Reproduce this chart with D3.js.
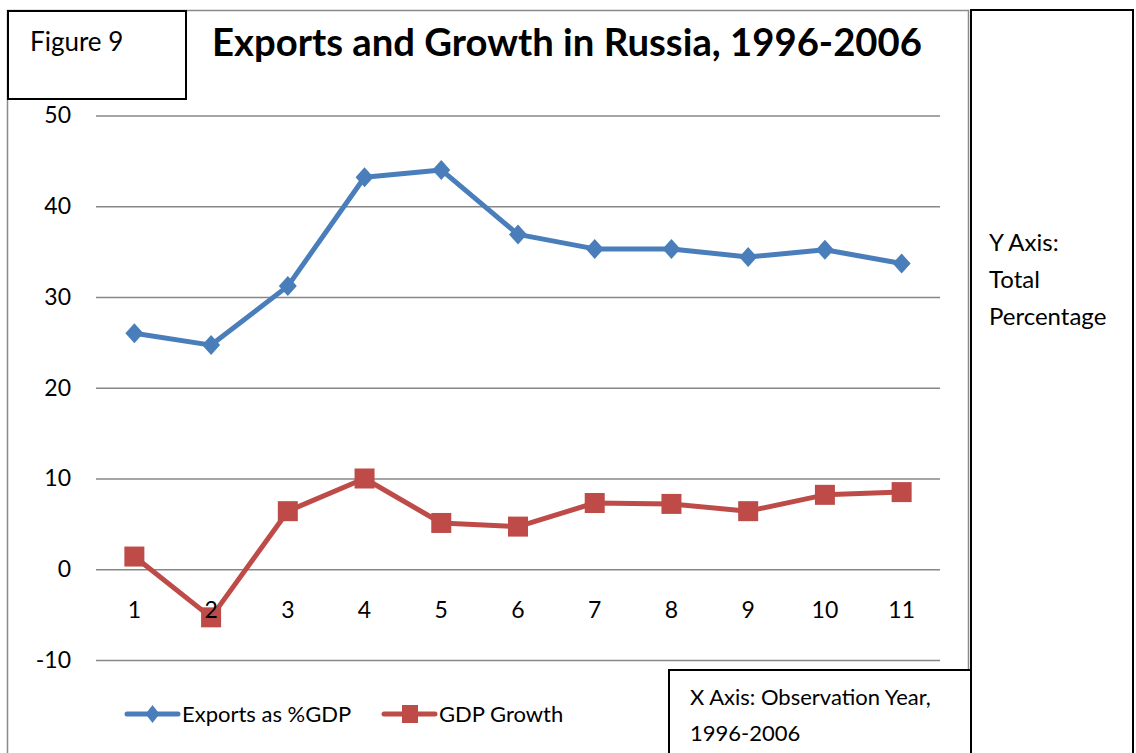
<!DOCTYPE html>
<html>
<head>
<meta charset="utf-8">
<script src="https://cdn.jsdelivr.net/npm/d3@7"></script>
<style>
  html, body { margin: 0; padding: 0; background: #fff; }
  svg { display: block; font-family: Lato, "Open Sans", sans-serif; }
</style>
</head>
<body>
<svg id="chart" width="1136" height="753"></svg>
<script>
// Observation years 1996-2006 numbered 1..11
const categories = ["1", "2", "3", "4", "5", "6", "7", "8", "9", "10", "11"];
const exportsPctGDP = [26.0, 24.7, 31.2, 43.2, 44.0, 36.9, 35.3, 35.3, 34.4, 35.2, 33.7];
const gdpGrowth = [1.4, -5.3, 6.4, 10.0, 5.1, 4.7, 7.3, 7.2, 6.4, 8.2, 8.5];
const yTicks = [-10, 0, 10, 20, 30, 40, 50];
const seriesNames = ["Exports as %GDP", "GDP Growth"];

const svg = d3.select("#chart");
const plot = { left: 96, right: 940, top: 115.5, bottom: 660 };
const blue = "#4a7ebb", red = "#be4b48", grid = "#878787";

// chart frame
svg.append("rect").attr("x", 7.5).attr("y", 10.5).attr("width", 961).attr("height", 800)
  .attr("fill", "#fff").attr("stroke", "#8a8a8a").attr("stroke-width", 1.5);

const x = d3.scaleBand().domain(categories).range([plot.left, plot.right]);
const y = d3.scaleLinear().domain([-10, 50]).range([plot.bottom, plot.top]);

// horizontal gridlines + y labels
const yAxis = d3.axisLeft(y).tickValues(yTicks).tickFormat(d => String(d))
  .tickSize(-(plot.right - plot.left)).tickPadding(25);
const gy = svg.append("g").attr("transform", `translate(${plot.left},0)`).call(yAxis);
gy.select(".domain").remove();
gy.selectAll(".tick line").attr("stroke", grid).attr("stroke-width", 1.6);
gy.selectAll(".tick text").attr("fill", "#000").style("font-size", "23px")
  .style("font-family", "Lato, sans-serif");

const cx = (d, i) => x(categories[i]) + x.bandwidth() / 2;
const line = d3.line().x((d, i) => cx(d, i)).y(d => y(d));

// exports series
svg.append("path").datum(exportsPctGDP).attr("d", line)
  .attr("fill", "none").attr("stroke", blue).attr("stroke-width", 5).attr("stroke-linejoin", "round");
svg.append("g").selectAll("path").data(exportsPctGDP).join("path")
  .attr("transform", (d, i) => `translate(${cx(d, i)},${y(d)})`)
  .attr("d", "M0,-10L9,0L0,10L-9,0Z").attr("fill", blue);

// GDP growth series
svg.append("path").datum(gdpGrowth).attr("d", line)
  .attr("fill", "none").attr("stroke", red).attr("stroke-width", 5).attr("stroke-linejoin", "round");
svg.append("g").selectAll("rect").data(gdpGrowth).join("rect")
  .attr("x", (d, i) => cx(d, i) - 10).attr("y", d => y(d) - 10)
  .attr("width", 20).attr("height", 20).attr("fill", red);

// category labels sit below the zero line, drawn above the series
const xAxis = d3.axisBottom(x).tickSize(0).tickPadding(32);
const gx = svg.append("g").attr("transform", `translate(0,${y(0)})`).call(xAxis);
gx.select(".domain").remove();
gx.selectAll(".tick text").attr("fill", "#000").style("font-size", "23px")
  .style("font-family", "Lato, sans-serif");

// legend
const legend = svg.append("g").style("font-size", "22px");
const legY = 714;
[[127, blue, "diamond"], [384, red, "square"]].forEach(([lx, col, shape], k) => {
  legend.append("line").attr("x1", lx).attr("x2", lx + 51).attr("y1", legY).attr("y2", legY)
    .attr("stroke", col).attr("stroke-width", 5).attr("stroke-linecap", "round");
  if (shape === "diamond") {
    legend.append("path").attr("transform", `translate(${lx + 25.5},${legY})`)
      .attr("d", "M0,-9L7,0L0,9L-7,0Z").attr("fill", col);
  } else {
    legend.append("rect").attr("x", lx + 18).attr("y", legY - 9).attr("width", 16).attr("height", 18).attr("fill", col);
  }
  legend.append("text").attr("x", lx + 55).attr("y", legY).attr("dy", "0.35em")
    .text(seriesNames[k]);
});

// title
const title = svg.append("text").attr("x", 212).attr("y", 56)
  .style("font-weight", "bold").style("font-size", "36px").text("Exports and Growth in Russia, 1996-2006");
const tw = title.node().getComputedTextLength();
title.style("font-size", (36 * 710 / tw).toFixed(2) + "px");

// "Figure 9" box
svg.append("rect").attr("x", 8).attr("y", 11).attr("width", 178).attr("height", 88)
  .attr("fill", "#fff").attr("stroke", "#000").attr("stroke-width", 2);
svg.append("text").attr("x", 30).attr("y", 51).style("font-size", "26px").text("Figure 9");

// y-axis note box
svg.append("rect").attr("x", 971).attr("y", 10).attr("width", 162).attr("height", 800)
  .attr("fill", "#fff").attr("stroke", "#000").attr("stroke-width", 2);
const yNote = ["Y Axis:", "Total", "Percentage"];
svg.append("g").selectAll("text").data(yNote).join("text")
  .attr("x", 989).attr("y", (d, i) => 243 + i * 37).attr("dy", "0.35em")
  .style("font-size", "24px").text(d => d);

// x-axis note box
svg.append("rect").attr("x", 669).attr("y", 670).attr("width", 302).attr("height", 200)
  .attr("fill", "#fff").attr("stroke", "#000").attr("stroke-width", 2);
const xNote = ["X Axis: Observation Year,", "1996-2006"];
svg.append("g").selectAll("text").data(xNote).join("text")
  .attr("x", 690).attr("y", (d, i) => 697 + i * 36).attr("dy", "0.35em")
  .style("font-size", "22px").text(d => d);
</script>
</body>
</html>
